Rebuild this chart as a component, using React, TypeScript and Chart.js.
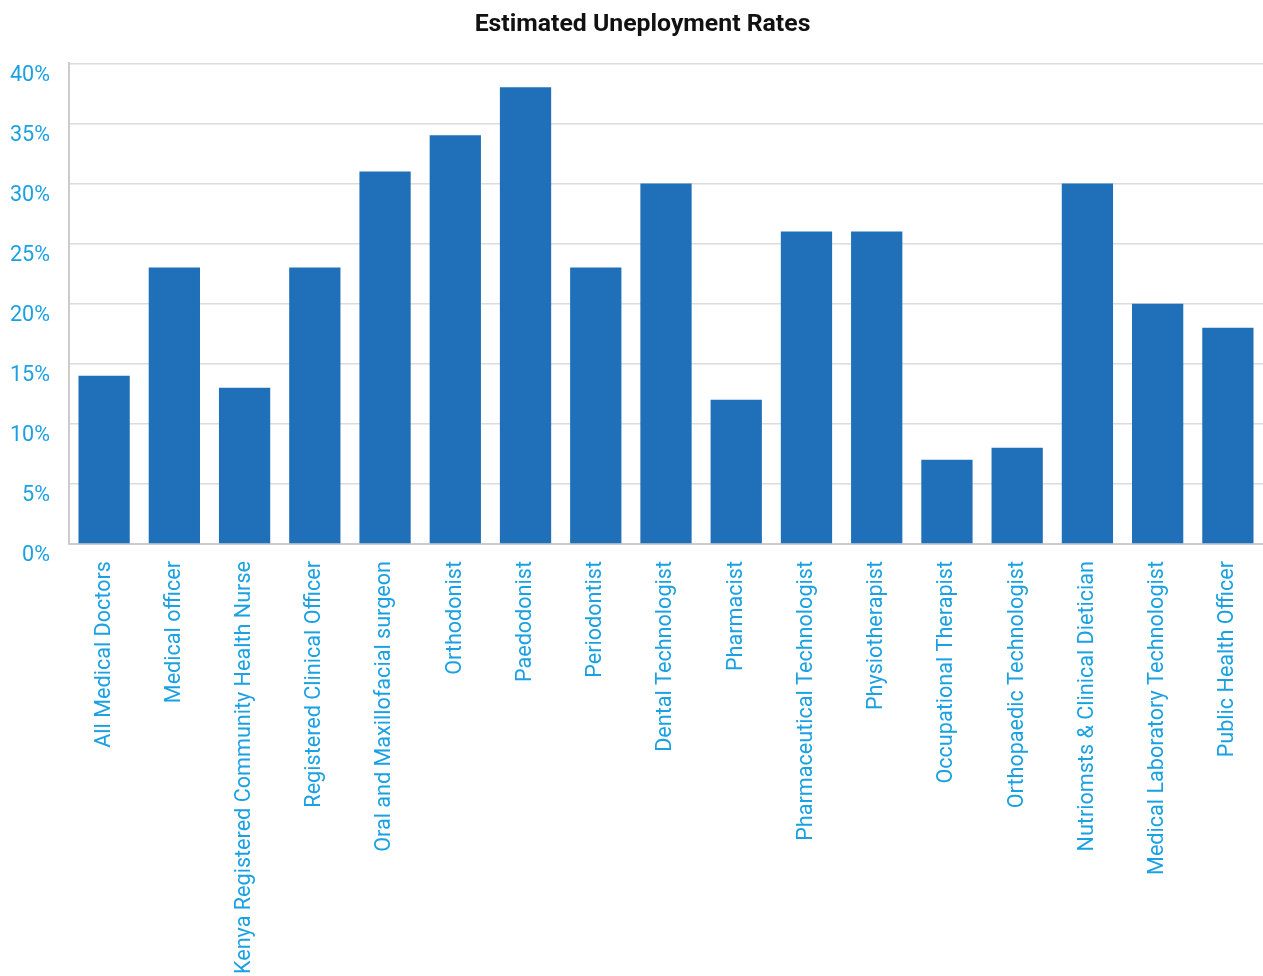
import React, { useEffect, useRef } from "react";
import { Chart, registerables } from "chart.js";

Chart.register(...registerables);

const categories = [
  "All Medical Doctors",
  "Medical officer",
  "Kenya Registered Community Health Nurse",
  "Registered Clinical Officer",
  "Oral and Maxillofacial surgeon",
  "Orthodonist",
  "Paedodonist",
  "Periodontist",
  "Dental Technologist",
  "Pharmacist",
  "Pharmaceutical Technologist",
  "Physiotherapist",
  "Occupational Therapist",
  "Orthopaedic Technologist",
  "Nutriomsts & Clinical Dietician",
  "Medical Laboratory Technologist",
  "Public Health Officer",
];

const rates = [14, 23, 13, 23, 31, 34, 38, 23, 30, 12, 26, 26, 7, 8, 30, 20, 18];

const titleText = "Estimated Uneployment Rates";

const unclipYLabels = {
  id: "unclipYLabels",
  afterLayout(chart: any) {
    const y = chart.scales.y;
    if (y) y.left = 0;
  },
};

export default function App() {
  const ref = useRef<HTMLCanvasElement | null>(null);

  useEffect(() => {
    if (!ref.current) return;
    const chart = new Chart(ref.current, {
      type: "bar",
      data: {
        labels: categories,
        datasets: [
          {
            label: "Rate",
            data: rates,
            backgroundColor: "#1f70b8",
            borderWidth: 0,
            categoryPercentage: 1,
            barPercentage: 0.73,
          },
        ],
      },
      plugins: [unclipYLabels],
      options: {
        animation: false,
        responsive: false,
        maintainAspectRatio: false,
        layout: { padding: { top: 10, left: 22, right: 0, bottom: 0 } },
        plugins: {
          legend: { display: false },
          tooltip: { enabled: false },
          title: {
            display: true,
            text: titleText,
            color: "#111",
            font: { family: "Roboto", size: 24.8, weight: "bold" },
            padding: { top: 0, bottom: 23.5 },
          },
        },
        scales: {
          x: {
            afterFit: (scale: any) => {
              scale.height = 432;
              scale.paddingRight = 0;
              scale.paddingLeft = 0;
            },
            grid: { display: false, drawTicks: false },
            border: { display: true, color: "#cccccc", width: 2 },
            ticks: {
              color: "#1ba1e2",
              font: { family: "Roboto", size: 21.6 },
              maxRotation: 90,
              minRotation: 90,
              autoSkip: false,
              padding: 17,
            },
          },
          y: {
            min: 0,
            max: 40,
            afterFit: (scale: any) => {
              scale.width = 47;
              scale.paddingTop = 0;
              scale.paddingBottom = 0;
            },
            grid: { color: "#dcdcdc", lineWidth: 1.5, drawTicks: false },
            border: { display: true, color: "#cccccc", width: 2 },
            ticks: {
              stepSize: 5,
              color: "#1ba1e2",
              font: { family: "Roboto", size: 21.6 },
              padding: 19,
              labelOffset: 12,
              callback: (v: any) => v + "%",
            },
          },
        },
      },
    });
    return () => chart.destroy();
  }, []);

  return (
    <div style={{ position: "absolute", left: 0, top: 0, width: 1263, height: 976, background: "#fff" }}>
      <canvas ref={ref} width={1263} height={976} style={{ width: 1263, height: 976, display: "block" }} />
    </div>
  );
}
